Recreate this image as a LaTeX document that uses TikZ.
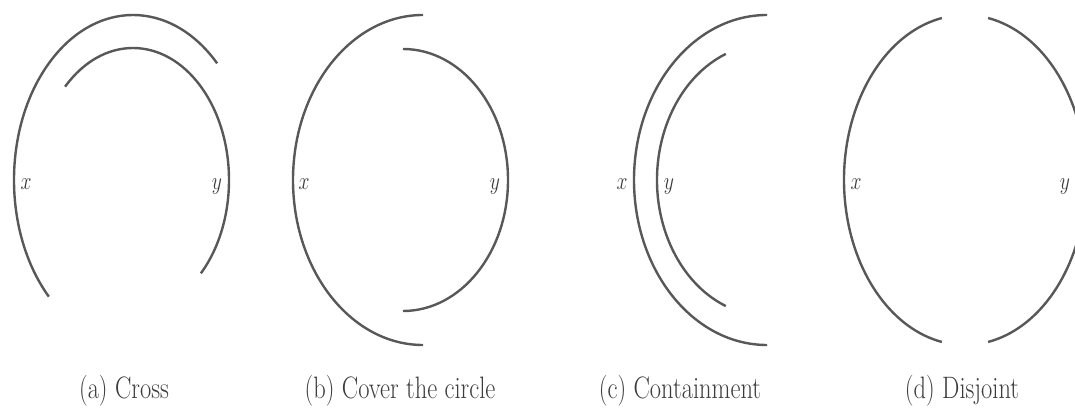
\documentclass[tikz,border=0pt]{standalone}
\definecolor{arcgray}{RGB}{88,88,88}
\definecolor{txtgray}{RGB}{60,60,60}
\newcommand{\narrowtxt}[1]{\scalebox{0.79}[1]{#1}}
\tikzset{
  curve/.style={draw=arcgray, line width=2.4pt},
  lbl/.style={inner sep=0pt, anchor=base, text=txtgray, font=\fontsize{31}{37}\selectfont},
  captxt/.style={inner sep=0pt, anchor=base, text=txtgray, font=\fontsize{31}{37}\selectfont}
}
\begin{document}
\begin{tikzpicture}[x=1pt,y=1pt]
\useasboundingbox (0,0) rectangle (1075,407);
% centres
\coordinate (ca) at (133,227);
\coordinate (cbo) at (423,227);
\coordinate (cbi) at (403,227);
\coordinate (cc) at (767,227);
\coordinate (cd) at (965,227);
% (a) Cross
\draw[curve] (ca) ++(225:119pt and 165pt) arc[start angle=225, end angle=45, x radius=119pt, y radius=165pt];
\draw[curve] (ca) ++(135:96pt and 132pt) arc[start angle=135, end angle=-45, x radius=96pt, y radius=132pt];
\node[lbl] (ax) at (26,217) {\narrowtxt{$x$}};
\node[lbl] (ay) at (217,217) {\narrowtxt{$y$}};
\node[captxt] (capa) at (124,9) {\narrowtxt{(a) Cross}};
% (b) Cover the circle
\draw[curve] (cbo) ++(90:130pt and 165pt) arc[start angle=90, end angle=270, x radius=130pt, y radius=165pt];
\draw[curve] (cbi) ++(90:105pt and 131pt) arc[start angle=90, end angle=-90, x radius=105pt, y radius=131pt];
\node[lbl] (bx) at (304,217) {\narrowtxt{$x$}};
\node[lbl] (by) at (495,217) {\narrowtxt{$y$}};
\node[captxt] (capb) at (400,9) {\narrowtxt{(b) Cover the circle}};
% (c) Containment
\draw[curve] (cc) ++(90:133pt and 165pt) arc[start angle=90, end angle=270, x radius=133pt, y radius=165pt];
\draw[curve] (cc) ++(112:110pt and 136pt) arc[start angle=112, end angle=248, x radius=110pt, y radius=136pt];
\node[lbl] (cx) at (622,217) {\narrowtxt{$x$}};
\node[lbl] (cy) at (669,217) {\narrowtxt{$y$}};
\node[captxt] (capc) at (680,9) {\narrowtxt{(c) Containment}};
% (d) Disjoint
\draw[curve] (cd) ++(101:121pt and 165pt) arc[start angle=101, end angle=259, x radius=121pt, y radius=165pt];
\draw[curve] (cd) ++(79:121pt and 165pt) arc[start angle=79, end angle=-79, x radius=121pt, y radius=165pt];
\node[lbl] (dx) at (856,217) {\narrowtxt{$x$}};
\node[lbl] (dy) at (1065,217) {\narrowtxt{$y$}};
\node[captxt] (capd) at (962,9) {\narrowtxt{(d) Disjoint}};
\end{tikzpicture}
\end{document}
